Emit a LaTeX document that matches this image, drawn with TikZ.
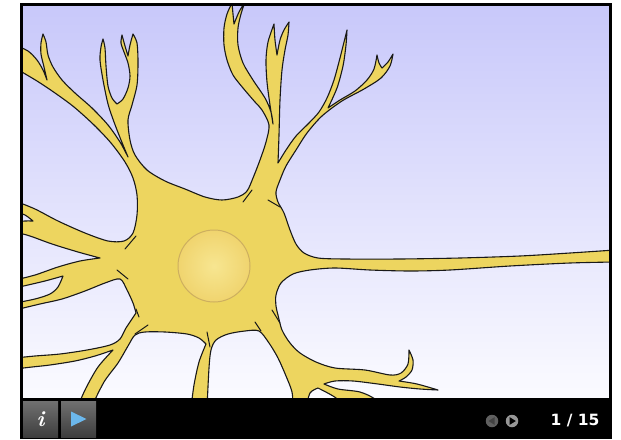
\documentclass[tikz,border=0pt]{standalone}
\usepackage{fontspec}
\newfontfamily\uifont{DejaVu Sans}
\usetikzlibrary{calc}
\definecolor{bgtop}{RGB}{200,200,250}
\definecolor{bgbot}{RGB}{251,251,255}
\definecolor{cell}{RGB}{237,213,95}
\definecolor{outline}{RGB}{25,25,25}
\definecolor{nucin}{RGB}{247,230,145}
\definecolor{nucout}{RGB}{240,212,110}
\definecolor{nucline}{RGB}{205,175,95}
\definecolor{btntop}{RGB}{112,112,112}
\definecolor{btnbot}{RGB}{62,62,62}
\definecolor{playblue}{RGB}{108,184,236}
\definecolor{navdark}{RGB}{96,96,96}
\definecolor{navdarktri}{RGB}{66,66,66}
\definecolor{navlight}{RGB}{150,150,150}
\tikzset{
  membrane/.style={fill=cell, draw=outline, line width=1.1pt, line join=round},
  dendtick/.style={draw=outline, line width=1pt, line cap=round},
  ctrlbtn/.style={rectangle, minimum width=35pt, minimum height=36pt, inner sep=0pt,
                  top color=btntop, bottom color=btnbot, draw=none},
  navbtn/.style={circle, minimum size=12.5pt, inner sep=0pt, draw=none},
}
\begin{document}
\begin{tikzpicture}[x=1pt,y=-1pt]
\useasboundingbox (0,0) rectangle (621,439);
\fill[white] (0,0) rectangle (621,439);

\begin{scope}
\clip (22,5) rectangle (610,399);
\shade[top color=bgtop,bottom color=bgbot] (22,5) rectangle (610,399);

% neuron membrane: dendrites, soma, axon
\filldraw[membrane]
 plot[smooth] coordinates {(128,157) (121,140) (114,122) (108,104) (103,80) (100,60) (101,47) (103,39)}
 -- plot[smooth] coordinates {(103,39) (105,48) (106,66) (108,86) (112,98) (117,104)}
 -- plot[smooth] coordinates {(117,104) (123,99) (128,88) (130,76) (128,63) (124,52) (121,43) (122,35)}
 -- plot[smooth] coordinates {(122,35) (125,46) (128,56)}
 -- plot[smooth] coordinates {(128,56) (130,45) (133,34)}
 -- plot[smooth] coordinates {(133,34) (137,43) (138,62) (137,85) (132,105) (128,120) (130,140) (135,155) (147,170) (165,181) (185,189) (205,197) (222,200) (238,197) (247,191) (253,178) (260,160) (266,142) (269,125) (262,110) (255,102) (243,88) (233,75) (227,60) (224,45) (224,28) (227,14) (232,3)}
 -- plot[smooth] coordinates {(232,3) (233,14) (234,24)}
 -- plot[smooth] coordinates {(234,24) (239,12) (245,2)}
 -- plot[smooth] coordinates {(245,2) (241,14) (238,28) (238,45) (243,63) (253,80) (265,98) (271,112) (273,124)}
 -- plot[smooth] coordinates {(273,124) (270,105) (267,82) (266,60) (268,42) (274,24)}
 -- plot[smooth] coordinates {(274,24) (275,40) (277,55)}
 -- plot[smooth] coordinates {(277,55) (280,40) (284,30) (289,22)}
 -- plot[smooth] coordinates {(289,22) (288,35) (285,50) (282,70) (280,100) (279,135) (278,163)}
 -- plot[smooth] coordinates {(278,163) (286,150) (296,136) (309,123) (319,112) (327,98) (334,80) (340,58) (344,42) (347,30)}
 -- plot[smooth] coordinates {(347,30) (346,45) (343,66) (337,88) (328,108)}
 -- plot[smooth] coordinates {(328,108) (340,100) (355,91) (367,80) (374,69) (377,55)}
 -- plot[smooth] coordinates {(377,55) (379,63) (382,68)}
 -- plot[smooth] coordinates {(382,68) (388,62) (393,54)}
 -- plot[smooth] coordinates {(393,54) (390,66) (381,78) (364,89) (342,101) (322,116) (307,133) (296,150) (286,166) (280,180) (276,192) (278,202) (284,213) (290,230) (296,244) (304,253) (318,258) (345,259) (400,259) (460,258) (520,256) (570,253) (615,250)}
 -- (615,262)
 -- plot[smooth] coordinates {(615,262) (570,263) (510,266) (450,270) (410,271) (370,270) (335,268) (310,270) (293,274) (281,283) (276,295) (276,306) (278,315) (282,330) (290,343) (300,353) (316,362) (335,368) (365,370) (390,375) (401,373) (408,364) (409,350)}
 -- plot[smooth] coordinates {(409,350) (413,360) (412,370) (406,377) (399,381)}
 -- plot[smooth] coordinates {(399,381) (417,384) (438,390)}
 -- plot[smooth] coordinates {(438,390) (420,389) (400,387) (378,384) (353,381) (335,381) (324,384)}
 -- plot[smooth] coordinates {(324,384) (338,389) (360,392) (375,399) (383,408)}
 -- (350,408)
 -- plot[smooth] coordinates {(350,408) (333,396) (318,388)}
 -- plot[smooth] coordinates {(318,388) (310,393) (306,408)}
 -- (293,408)
 -- plot[smooth] coordinates {(293,408) (292,392) (286,376) (278,358) (269,343) (259,331) (245,331) (228,334) (216,340) (211,350) (209,368) (207,408)}
 -- (191,408)
 -- plot[smooth] coordinates {(191,408) (194,385) (199,362) (206,344)}
 -- plot[smooth] coordinates {(206,344) (199,338) (187,334) (165,332) (145,332) (135,335) (128,346) (118,363) (104,382) (91,408)}
 -- (77,408)
 -- plot[smooth] coordinates {(77,408) (86,388) (98,367) (113,350)}
 -- plot[smooth] coordinates {(113,350) (95,356) (75,361) (50,365) (32,367) (15,369)}
 -- (15,358)
 -- plot[smooth] coordinates {(15,358) (35,356) (60,354) (87,350) (110,345) (120,339) (126,328) (136,313)}
 -- plot[smooth] coordinates {(136,313) (133,303) (127,290) (120,279) (105,283) (85,291) (62,299) (40,304) (15,310)}
 -- (15,303)
 -- plot[smooth] coordinates {(15,303) (35,299) (50,294) (58,287) (63,276)}
 -- plot[smooth] coordinates {(63,276) (45,281) (28,285) (15,288)}
 -- (15,280)
 -- plot[smooth] coordinates {(15,280) (35,275) (58,267) (80,261) (100,258)}
 -- plot[smooth] coordinates {(100,258) (78,252) (52,244) (30,236) (15,232)}
 -- (15,222)
 -- plot[smooth] coordinates {(15,222) (25,221) (33,221)}
 -- plot[smooth] coordinates {(33,221) (25,215) (15,212)}
 -- (15,201)
 -- plot[smooth] coordinates {(15,201) (35,209) (58,221) (85,233) (108,241) (124,241) (133,233) (137,215) (137,195) (133,178) (125,162) (111,143) (94,125) (74,107) (55,93) (37,81) (15,68)}
 -- (15,45)
 -- plot[smooth] coordinates {(15,45) (28,51) (37,60) (43,70) (47,80)}
 -- plot[smooth] coordinates {(47,80) (44,67) (41,54) (41,43) (43,34)}
 -- plot[smooth] coordinates {(43,34) (46,42) (48,55) (53,67) (62,80) (75,93) (92,108) (108,125) (120,142) (128,157)}
 -- cycle;

% short strokes where branches leave the soma
\draw[dendtick] (243,202) -- (252,190);
\draw[dendtick] (268,200) -- (280,207);
\draw[dendtick] (125,249) -- (136,236);
\draw[dendtick] (117,270) -- (128,279);
\draw[dendtick] (136,309) -- (139,317);
\draw[dendtick] (148,325) -- (135,334);
\draw[dendtick] (207,332) -- (210,347);
\draw[dendtick] (255,322) -- (261,331);
\draw[dendtick] (272,310) -- (280,323);

% nucleus
\node[circle, minimum size=72pt, inner sep=0pt, inner color=nucin, outer color=nucout,
      draw=nucline, line width=1pt] (nucleus) at (214,266) {};
\end{scope}

% player frame and control bar
\fill[black] (20,398) rectangle (612,439);
\draw[line width=3pt] (21.5,4.5) rectangle (610.5,399);

\node[ctrlbtn, text=white, font=\bfseries\itshape\fontsize{22}{22}\selectfont] (infobtn) at (40.5,419) {i};
\node[ctrlbtn] (playbtn) at (78.5,419) {};
\fill[playblue] ($(playbtn.center)+(-7.5,-7.5)$) -- ($(playbtn.center)+(-7.5,7.5)$) -- ($(playbtn.center)+(8,0)$) -- cycle;

\node[navbtn, fill=navdark] (prevbtn) at (492,421) {};
\fill[navdarktri] ($(prevbtn.center)+(-3.5,0)$) -- ($(prevbtn.center)+(2.5,-3.8)$) -- ($(prevbtn.center)+(2.5,3.8)$) -- cycle;
\node[navbtn, fill=navlight] (nextbtn) at (512,421) {};
\fill[black] ($(nextbtn.center)+(3.8,0)$) -- ($(nextbtn.center)+(-2.3,-3.8)$) -- ($(nextbtn.center)+(-2.3,3.8)$) -- cycle;

\node[text=white, font=\uifont\bfseries\fontsize{15.5}{16}\selectfont, inner sep=0pt] (pagenum) at (575,421) {1 / 15};
\end{tikzpicture}
\end{document}
